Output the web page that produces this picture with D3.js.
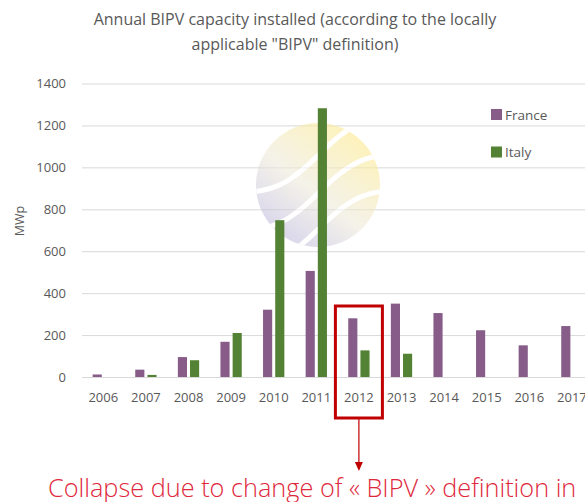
<!DOCTYPE html>
<html>
<head>
<meta charset="utf-8">
<script src="https://cdn.jsdelivr.net/npm/d3@7"></script>
<style>
  body { margin: 0; background: #fff; }
  svg { display: block; font-family: "Open Sans", "Noto Sans", sans-serif; }
</style>
</head>
<body>
<svg id="chart" width="585" height="502"></svg>
<script>
// data
const years = ['2006', '2007', '2008', '2009', '2010', '2011', '2012', '2013', '2014', '2015', '2016', '2017'];
const seriesNames = ['France', 'Italy'];
const france = [12, 35, 95, 168, 321, 506, 280, 350, 305, 223, 151, 243];
const italy = [0, 10, 80, 210, 748, 1282, 127, 111, 0, 0, 0, 0];
const yTicks = [0, 200, 400, 600, 800, 1000, 1200, 1400];
const titleLines = ['Annual BIPV capacity installed (according to the locally', 'applicable "BIPV" definition)'];
const note = 'Collapse due to change of \u00ab BIPV \u00bb definition in';
const markedYear = '2012';

const colors = { France: '#875c88', Italy: '#548235' };

const svg = d3.select('#chart');
const plotLeft = 82, plotTop = 83.5, plotBottom = 377;
const step = 42.6;
const plotRight = plotLeft + step * years.length;

const x0 = d3.scaleBand().domain(years).range([plotLeft, plotRight]).paddingInner(0.5).paddingOuter(0.25);
const x1 = d3.scaleBand().domain(seriesNames).range([0, x0.bandwidth()]).paddingInner(0.25);
const y = d3.scaleLinear().domain([0, 1400]).range([plotBottom, plotTop]);

// title
svg.append('g').selectAll('text')
  .data(titleLines)
  .enter().append('text')
  .attr('x', 295)
  .attr('y', (d, i) => 25 + i * 25)
  .attr('text-anchor', 'middle')
  .attr('font-size', 16)
  .attr('fill', '#595959')
  .text(d => d);

// gridlines + y labels
const yAxis = svg.append('g')
  .attr('transform', `translate(${plotLeft},0)`)
  .call(d3.axisLeft(y).tickValues(yTicks).tickSize(-(plotRight - plotLeft)).tickPadding(16).tickFormat(d3.format('d')));
yAxis.select('.domain').remove();
yAxis.selectAll('.tick line').attr('stroke', '#d9d9d9').attr('stroke-width', 1);
yAxis.selectAll('.tick text').attr('fill', '#595959').attr('font-size', 13).attr('font-family', '"Open Sans", sans-serif');

// x labels
const xAxis = svg.append('g')
  .attr('transform', `translate(0,${plotBottom})`)
  .call(d3.axisBottom(x0).tickSize(0).tickPadding(16));
xAxis.select('.domain').remove();
xAxis.selectAll('.tick text').attr('fill', '#595959').attr('font-size', 13).attr('font-family', '"Open Sans", sans-serif');

// axis title
svg.append('text')
  .attr('transform', 'translate(24,221) rotate(-90)')
  .attr('text-anchor', 'middle')
  .attr('font-size', 12.5)
  .attr('fill', '#595959')
  .text('MWp');

// faint watermark logo
const defs = svg.append('defs');
const grad = defs.append('linearGradient').attr('id', 'logoGrad')
  .attr('x1', '10%').attr('y1', '100%').attr('x2', '80%').attr('y2', '10%');
grad.append('stop').attr('offset', '0%').attr('stop-color', '#b4b0e0');
grad.append('stop').attr('offset', '50%').attr('stop-color', '#eeeadc');
grad.append('stop').attr('offset', '100%').attr('stop-color', '#fdeb90');
defs.append('clipPath').attr('id', 'logoClip')
  .append('circle').attr('cx', 318).attr('cy', 185).attr('r', 62);
const logo = svg.append('g').attr('opacity', 0.6);
logo.append('circle').attr('cx', 318).attr('cy', 185).attr('r', 62).attr('fill', 'url(#logoGrad)');
const waves = logo.append('g').attr('clip-path', 'url(#logoClip)');
[-30, 8, 44].forEach(off => {
  const pts = d3.range(240, 400, 4).map(px => [px, 185 + off - (px - 318) * 0.55 + 9 * Math.sin((px - 250) / 22)]);
  waves.append('path')
    .attr('d', d3.line().curve(d3.curveBasis)(pts))
    .attr('fill', 'none')
    .attr('stroke', '#fff')
    .attr('stroke-width', 5);
});

// bars
const rows = years.map((yr, i) => ({ year: yr, France: france[i], Italy: italy[i] }));
svg.append('g').selectAll('g')
  .data(rows)
  .enter().append('g')
  .attr('transform', d => `translate(${x0(d.year)},0)`)
  .selectAll('rect')
  .data(d => seriesNames.map(k => ({ key: k, value: d[k] })).filter(v => v.value > 0))
  .enter().append('rect')
  .attr('x', d => x1(d.key))
  .attr('y', d => y(d.value))
  .attr('width', x1.bandwidth())
  .attr('height', d => plotBottom - y(d.value))
  .attr('fill', d => colors[d.key]);

// legend
const legend = svg.append('g').selectAll('g')
  .data(seriesNames)
  .enter().append('g')
  .attr('transform', (d, i) => `translate(491,${109 + i * 37.5})`);
legend.append('rect').attr('width', 11).attr('height', 11).attr('fill', d => colors[d]);
legend.append('text')
  .attr('x', 14).attr('y', 10.5)
  .attr('font-size', 13.5)
  .attr('fill', '#595959')
  .text(d => d);

// red highlight box + arrow
const bx = x0(markedYear) + x0.bandwidth() / 2;
svg.append('rect')
  .attr('x', bx - 23.5).attr('y', 306)
  .attr('width', 47).attr('height', 112)
  .attr('fill', 'none').attr('stroke', '#c00000').attr('stroke-width', 3);
svg.append('line')
  .attr('x1', bx).attr('x2', bx).attr('y1', 419).attr('y2', 463)
  .attr('stroke', '#c00000').attr('stroke-width', 1.2);
svg.append('path')
  .attr('d', `M${bx - 4},462 L${bx + 4},462 L${bx},471 Z`)
  .attr('fill', '#c00000');

svg.append('text')
  .attr('x', 48).attr('y', 497)
  .attr('font-size', 25.3)
  .attr('font-weight', 300)
  .attr('fill', '#e0283c')
  .text(note);
</script>
</body>
</html>
